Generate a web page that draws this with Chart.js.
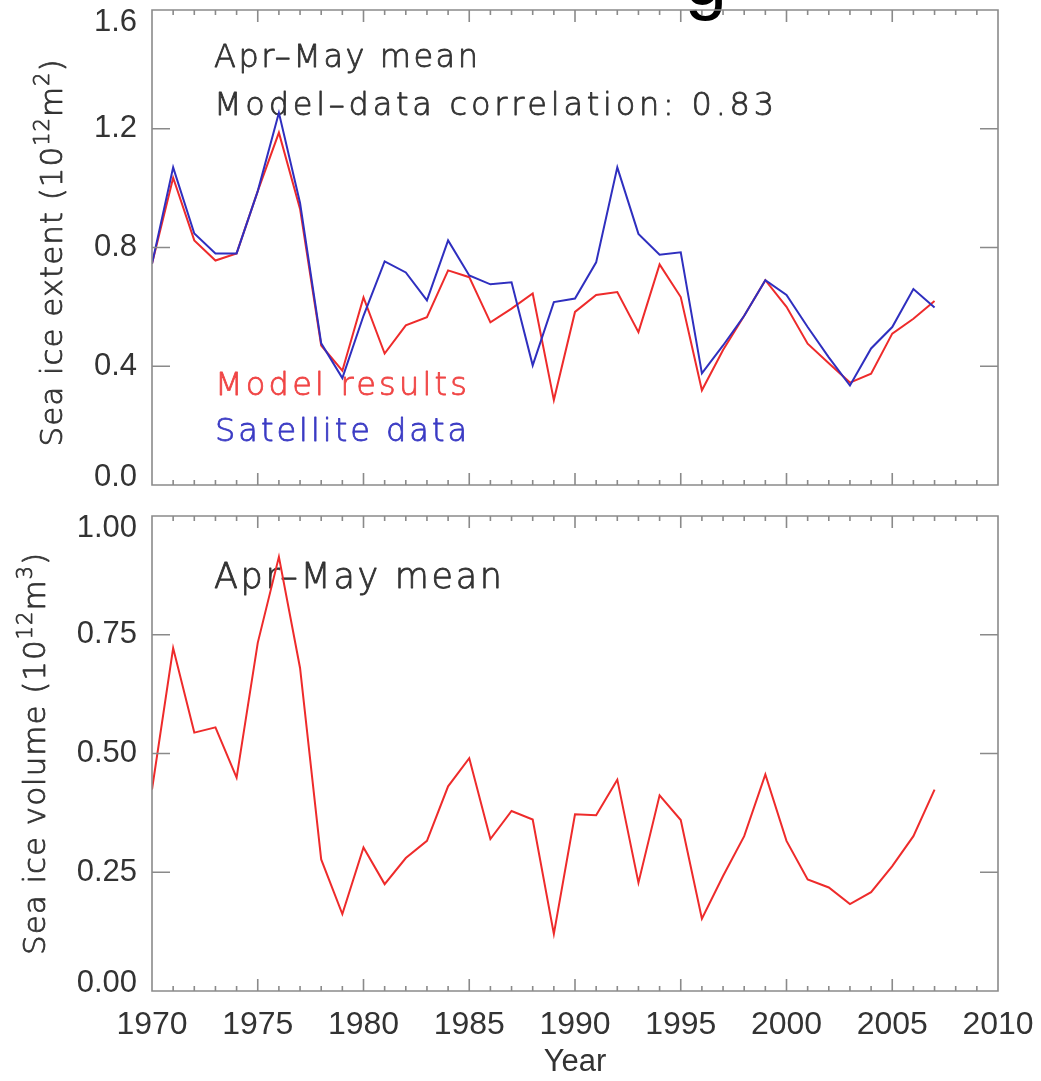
<!DOCTYPE html>
<html>
<head>
<meta charset="utf-8">
<script src="https://cdn.jsdelivr.net/npm/chart.js@4/dist/chart.umd.min.js"></script>
<style>
html,body{margin:0;padding:0;background:#fff;}
#wrap{position:relative;width:1041px;height:1081px;overflow:hidden;background:#fff;}
.box{position:absolute;left:0;}
</style>
</head>
<body>
<div id="wrap">
  <div class="box" style="top:0;width:1041px;height:500px"><canvas id="c1" width="1041" height="500"></canvas></div>
  <div class="box" style="top:500px;width:1041px;height:581px"><canvas id="c2" width="1041" height="581"></canvas></div>
</div>
<script>
// ---------------- DATA ----------------
const years = [1970,1971,1972,1973,1974,1975,1976,1977,1978,1979,
               1980,1981,1982,1983,1984,1985,1986,1987,1988,1989,
               1990,1991,1992,1993,1994,1995,1996,1997,1998,1999,
               2000,2001,2002,2003,2004,2005,2006,2007];
const extentModel = [0.745,1.035,0.824,0.756,0.780,0.990,1.187,0.930,0.470,0.385,
                     0.632,0.443,0.538,0.565,0.723,0.700,0.548,0.594,0.645,0.286,
                     0.583,0.640,0.650,0.515,0.743,0.633,0.319,0.455,0.570,0.690,
                     0.600,0.476,0.410,0.345,0.375,0.510,0.560,0.620];
const extentSatellite = [0.745,1.070,0.847,0.780,0.780,0.990,1.254,0.950,0.477,0.360,
                         0.570,0.753,0.716,0.622,0.824,0.706,0.676,0.683,0.403,0.616,
                         0.628,0.750,1.070,0.846,0.776,0.784,0.376,0.470,0.570,0.690,
                         0.640,0.532,0.430,0.335,0.460,0.532,0.660,0.598];
const volumeModel = [0.424,0.722,0.544,0.555,0.449,0.733,0.914,0.680,0.277,0.162,
                     0.302,0.225,0.280,0.316,0.431,0.490,0.320,0.379,0.361,0.120,
                     0.372,0.370,0.445,0.228,0.412,0.360,0.152,0.242,0.326,0.456,
                     0.316,0.235,0.218,0.183,0.208,0.263,0.326,0.424];
const yearTicks = [1970,1975,1980,1985,1990,1995,2000,2005,2010];
const extentTicks = [0.0,0.4,0.8,1.2,1.6];
const extentTickLabels = ['0.0','0.4','0.8','1.2','1.6'];
const volumeTicks = [0.00,0.25,0.50,0.75,1.00];
const volumeTickLabels = ['0.00','0.25','0.50','0.75','1.00'];

// ---------------- STYLE ----------------
const RED = '#ee2b2b', BLUE = '#2f2fbf', FRAME = '#8a8a8a', INK = '#333333';
const TICKFONT = '"Liberation Sans", Arial, Helvetica, sans-serif';
const ANNFONT = '"DejaVu Sans", Lato, sans-serif';

function pts(vals){ return years.map((yr,i)=>({x:yr,y:vals[i]})); }

// parse "abc^{12}def" into segments
function parseRich(s){
  const segs = []; const re = /\^\{([^}]*)\}/g; let last = 0, m;
  while ((m = re.exec(s))){
    if (m.index > last) segs.push({t:s.slice(last, m.index), sup:false});
    segs.push({t:m[1], sup:true}); last = re.lastIndex;
  }
  if (last < s.length) segs.push({t:s.slice(last), sup:false});
  return segs;
}

function richText(ctx, text, x, y, targetW, size, color){
  const segs = parseRich(text);
  const fontFor = sg => '200 ' + (sg.sup ? size*0.68 : size).toFixed(1) + 'px ' + ANNFONT;
  ctx.letterSpacing = '0px';
  let w0 = 0, n = 0;
  segs.forEach(sg=>{ ctx.font = fontFor(sg); sg.w = ctx.measureText(sg.t).width; w0 += sg.w; n += Array.from(sg.t).length; });
  const ls = (targetW - w0)/Math.max(1,n-1);
  ctx.fillStyle = color; ctx.strokeStyle = color; ctx.lineWidth = 0.8; ctx.lineJoin = 'round';
  ctx.textAlign = 'left'; ctx.textBaseline = 'alphabetic';
  let cx = x;
  segs.forEach(sg=>{
    ctx.font = fontFor(sg);
    ctx.letterSpacing = ls.toFixed(2)+'px';
    const yy = sg.sup ? y - size*0.42 : y;
    ctx.fillText(sg.t, cx, yy);
    ctx.strokeText(sg.t, cx, yy);
    cx += sg.w + ls*Array.from(sg.t).length;
  });
  ctx.letterSpacing = '0px';
}

const idlFrame = {
  id:'idlFrame',
  beforeDatasetsDraw(chart, args, o){
    const ctx = chart.ctx;
    ctx.save();
    (o.texts||[]).forEach(t=>richText(ctx,t.text,t.x,t.y,t.w,t.size,t.color));
    if (o.yTitle){
      const t = o.yTitle;
      ctx.translate(t.x, t.y);
      ctx.rotate(-Math.PI/2);
      richText(ctx, t.text, -t.w/2, 0, t.w, t.size, INK);
    }
    ctx.restore();
    if (o.glyph){
      ctx.save();
      ctx.font = o.glyph.font; ctx.fillStyle = '#000';
      ctx.textAlign='center'; ctx.textBaseline='alphabetic';
      ctx.fillText(o.glyph.text, o.glyph.x, o.glyph.y);
      ctx.restore();
    }
  },
  afterDatasetsDraw(chart, args, o){
    const ctx = chart.ctx, a = chart.chartArea, xs = chart.scales.x, ys = chart.scales.y;
    ctx.save();
    ctx.strokeStyle = FRAME; ctx.lineWidth = 1.6;
    ctx.beginPath();
    ctx.rect(a.left, a.top, a.right-a.left, a.bottom-a.top);
    for (let yr = xs.min; yr <= xs.max; yr++){
      const px = xs.getPixelForValue(yr);
      const len = (yr % 5 === 0) ? 12 : 5;
      ctx.moveTo(px, a.bottom); ctx.lineTo(px, a.bottom-len);
      ctx.moveTo(px, a.top); ctx.lineTo(px, a.top+len);
    }
    o.yTicks.forEach(v=>{
      const py = ys.getPixelForValue(v);
      ctx.moveTo(a.left, py); ctx.lineTo(a.left+18, py);
      ctx.moveTo(a.right, py); ctx.lineTo(a.right-18, py);
    });
    ctx.stroke();
    ctx.font = '31px ' + TICKFONT;
    ctx.fillStyle = INK; ctx.textAlign = 'right'; ctx.textBaseline = 'middle';
    o.yTicks.forEach((v,i)=>{
      let py = ys.getPixelForValue(v);
      py = Math.min(Math.max(py, a.top+12), a.bottom-8);
      ctx.fillText(o.yLabels[i], a.left-15, py);
    });
    ctx.restore();
  }
};

const common = {
  responsive:false, animation:false, events:[],
  elements:{line:{tension:0, borderWidth:2}, point:{radius:0}}
};

// ---------------- TOP CHART ----------------
new Chart(document.getElementById('c1'), {
  type:'line',
  data:{datasets:[
    {label:'Satellite data', data:pts(extentSatellite), borderColor:BLUE, order:0, fill:false},
    {label:'Model results', data:pts(extentModel), borderColor:RED, order:1, fill:false}
  ]},
  options:Object.assign({}, common, {
    layout:{padding:{top:10,right:43,bottom:15,left:0}},
    plugins:{legend:{display:false}, tooltip:{enabled:false},
      idlFrame:{
        yTicks:extentTicks, yLabels:extentTickLabels,
        yTitle:{text:'Sea ice extent (10^{12}m^{2})', x:62, y:253, w:387, size:31},
        glyph:{text:'g', x:706, y:5, font:'76px '+TICKFONT},
        texts:[
          {text:'Apr–May mean', x:214, y:67, w:264, size:32, color:INK},
          {text:'Model–data correlation: 0.83', x:214, y:115, w:560, size:32, color:INK},
          {text:'Model results', x:215, y:395, w:252, size:32, color:'#f04545'},
          {text:'Satellite data', x:215, y:441, w:252, size:32, color:'#3b3bc4'}
        ]
      }
    },
    scales:{
      x:{type:'linear', min:1970, max:2010, display:false},
      y:{type:'linear', min:0, max:1.6,
         afterFit(s){ s.width = 152; },
         ticks:{display:false, stepSize:0.4},
         grid:{display:false, drawTicks:false}, border:{display:false}}
    }
  }),
  plugins:[idlFrame]
});

// ---------------- BOTTOM CHART ----------------
new Chart(document.getElementById('c2'), {
  type:'line',
  data:{datasets:[
    {label:'Model results', data:pts(volumeModel), borderColor:RED, fill:false}
  ]},
  options:Object.assign({}, common, {
    layout:{padding:{top:16,right:43,bottom:0,left:0}},
    plugins:{legend:{display:false}, tooltip:{enabled:false},
      idlFrame:{
        yTicks:volumeTicks, yLabels:volumeTickLabels,
        yTitle:{text:'Sea ice volume (10^{12}m^{3})', x:45, y:254, w:402, size:31},
        texts:[
          {text:'Apr–May mean', x:214, y:88, w:288, size:35, color:INK}
        ]
      }
    },
    scales:{
      x:{type:'linear', min:1970, max:2010,
         afterBuildTicks(s){ s.ticks = yearTicks.map(v=>({value:v})); },
         afterFit(s){ s.height = 90; s.paddingLeft = 0; s.paddingRight = 0; },
         ticks:{autoSkip:false, maxRotation:0, padding:15, color:INK,
                font:{family:TICKFONT, size:32},
                callback:(v)=>String(v)},
         grid:{display:false, drawTicks:false}, border:{display:false},
         title:{display:true, text:'Year', color:INK, font:{family:TICKFONT, size:31}, padding:{top:0,bottom:0}}},
      y:{type:'linear', min:0, max:1.0,
         afterFit(s){ s.width = 152; },
         ticks:{display:false, stepSize:0.25},
         grid:{display:false, drawTicks:false}, border:{display:false}}
    }
  }),
  plugins:[idlFrame]
});
</script>
</body>
</html>
